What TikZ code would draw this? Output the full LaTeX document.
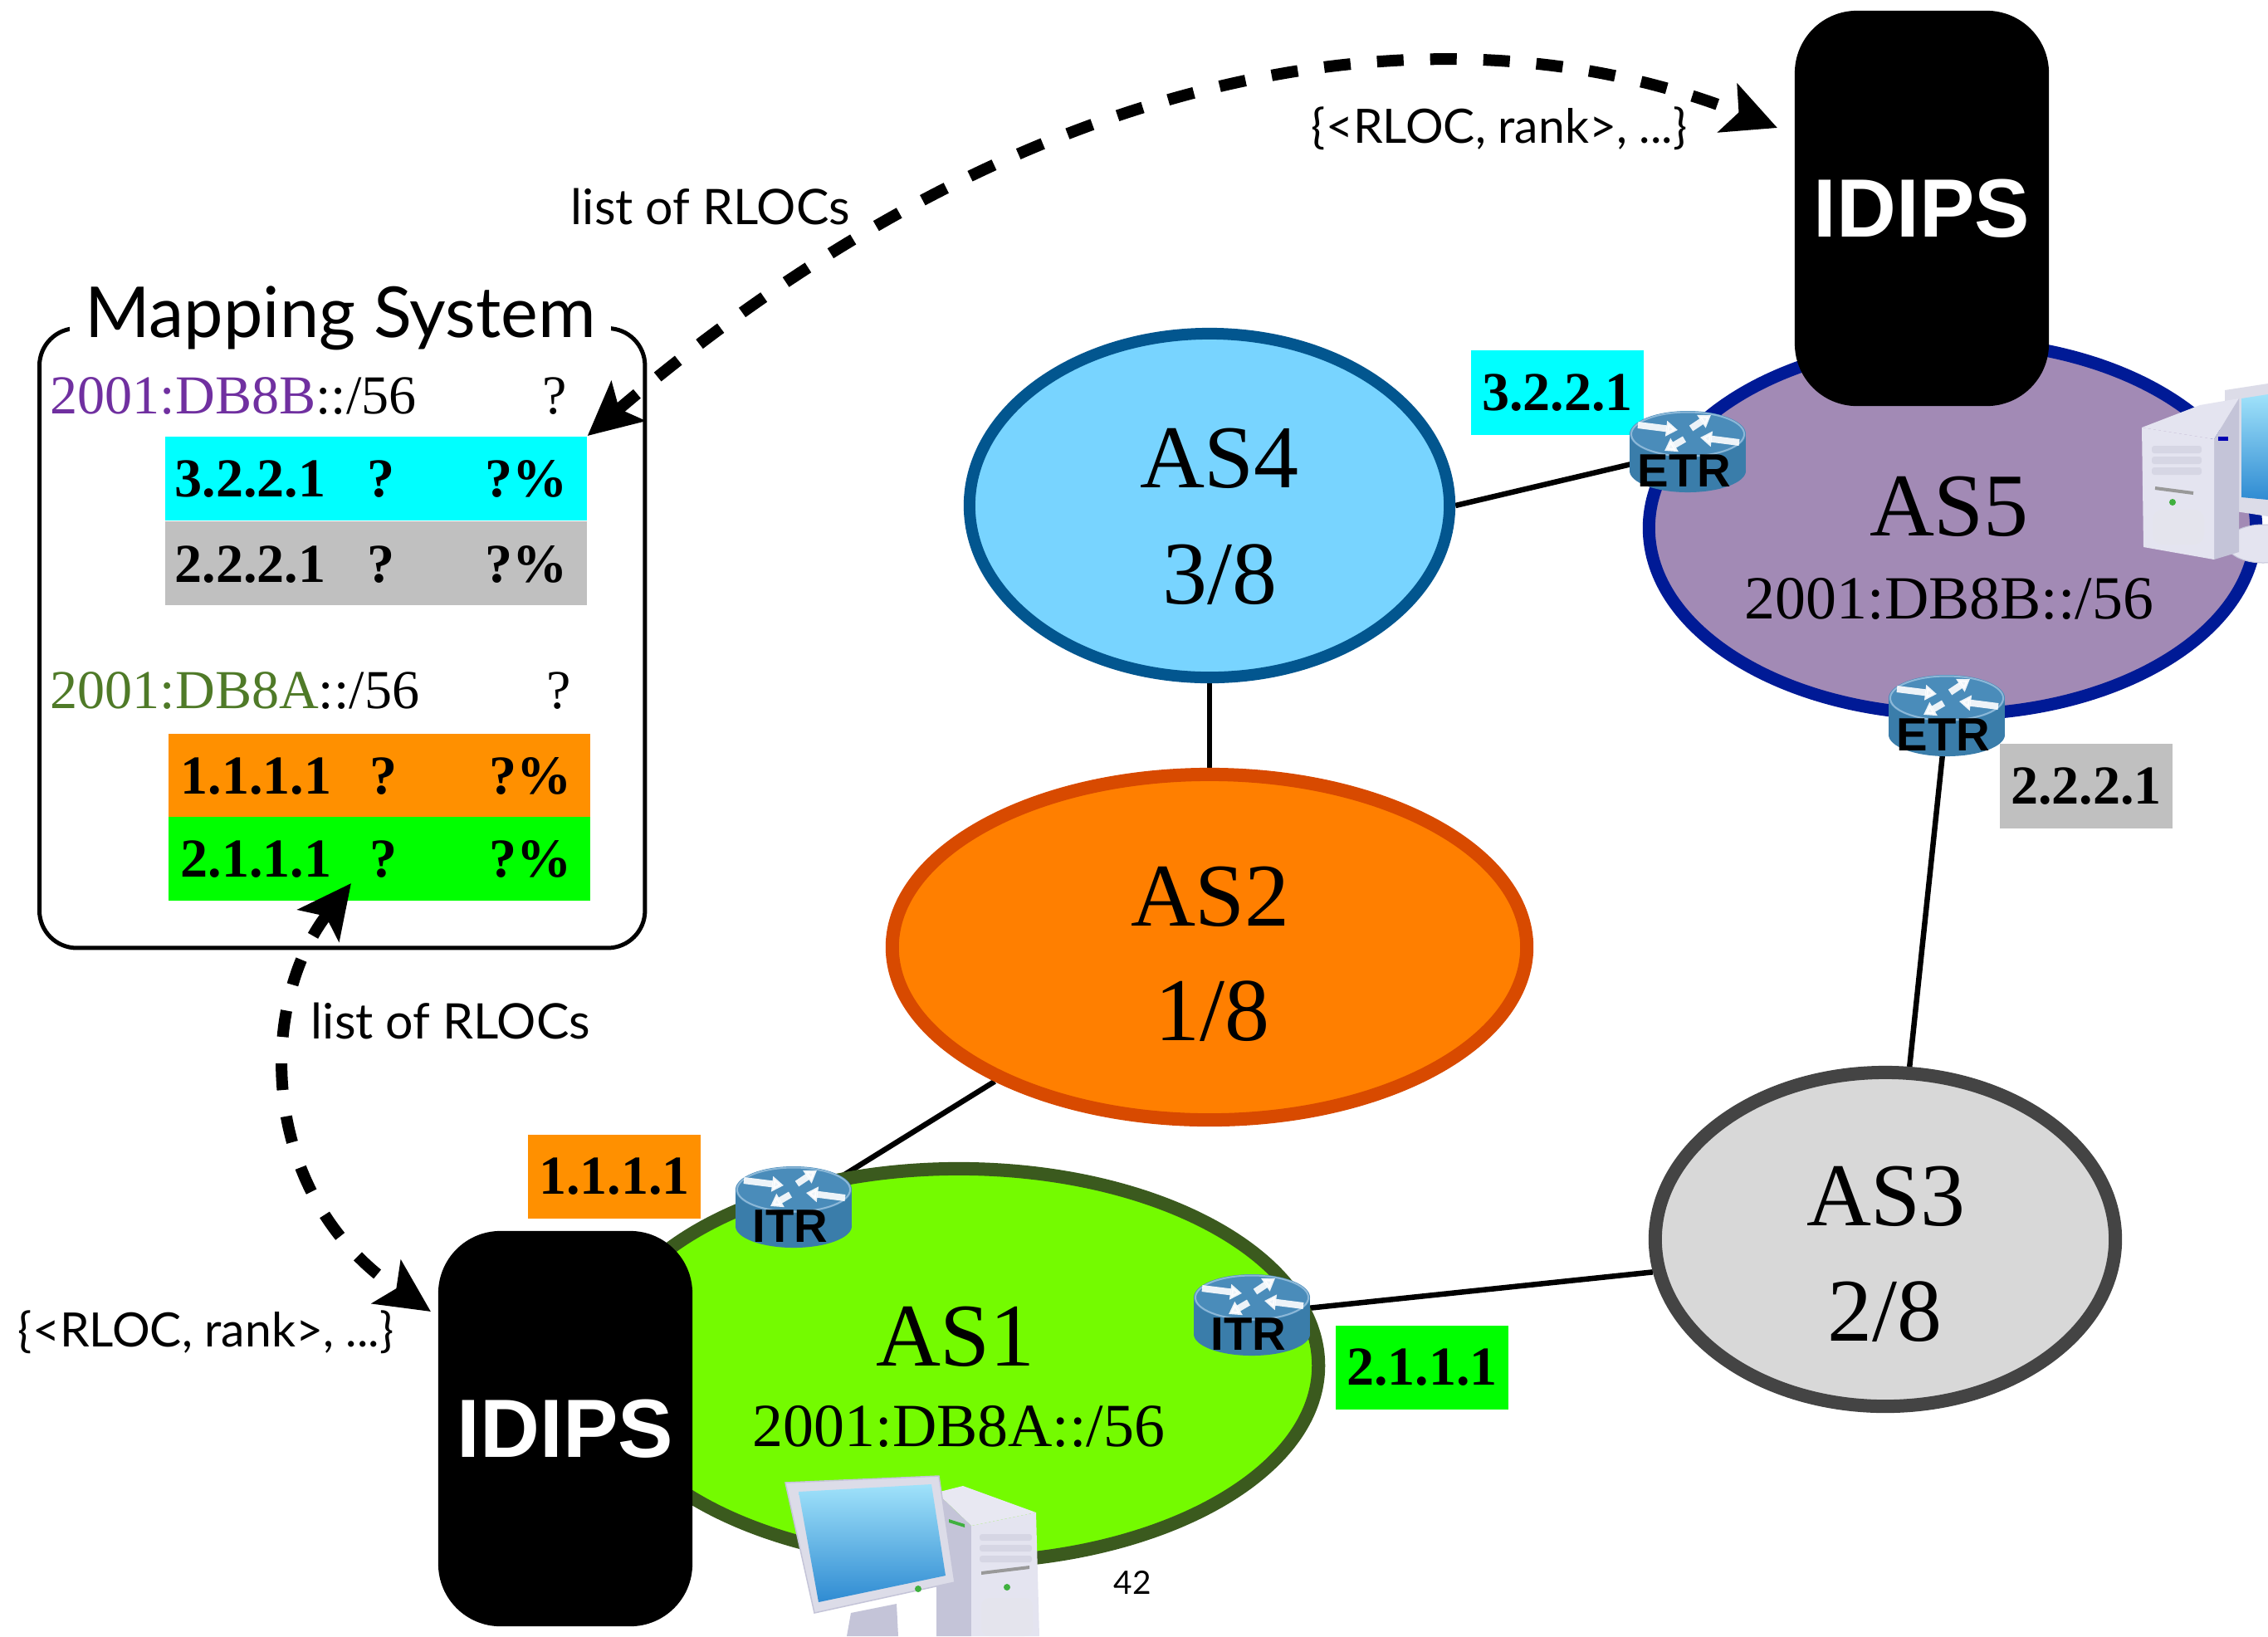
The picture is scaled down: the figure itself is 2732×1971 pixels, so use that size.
\documentclass[tikz,border=0pt]{standalone}
\usepackage{fontspec}
\usepackage{graphicx}
\setmainfont{Liberation Serif}
\newfontfamily\labelsans{Lato}
\newfontfamily\heavysans{Liberation Sans}
\usetikzlibrary{arrows.meta,shapes.geometric,backgrounds}

\definecolor{asfourfill}{HTML}{78D4FF}
\definecolor{asfourline}{HTML}{02568F}
\definecolor{astwofill}{HTML}{FF7F00}
\definecolor{astwoline}{HTML}{D84A00}
\definecolor{asonefill}{HTML}{74FB00}
\definecolor{asoneline}{HTML}{3B5A1E}
\definecolor{asthreefill}{HTML}{D8D8D8}
\definecolor{asthreeline}{HTML}{444444}
\definecolor{asfivefill}{HTML}{A28AB5}
\definecolor{asfiveline}{HTML}{001A96}
\definecolor{rlcyan}{HTML}{00FFFF}
\definecolor{rlgray}{HTML}{C0C0C0}
\definecolor{rlorange}{HTML}{FF9000}
\definecolor{rlgreen}{HTML}{00FF00}
\definecolor{pfxpurple}{HTML}{7030A0}
\definecolor{pfxgreen}{HTML}{4F7A28}
\definecolor{rtrbody}{HTML}{3A7DAA}
\definecolor{rtrtop}{HTML}{4A8CBA}
\definecolor{rtrrim}{HTML}{8CB8D8}
\definecolor{pcshell}{HTML}{E4E4F0}
\definecolor{pcshade}{HTML}{C4C4D8}
\definecolor{pcframe}{HTML}{DCDCE8}
\definecolor{pcscreen}{HTML}{2F8BD2}
\definecolor{pcscreenlight}{HTML}{A0E2FA}
\definecolor{pcled}{HTML}{3FB03F}

\newcommand\fitwidth[2]{\resizebox{#1}{!}{#2}}

% Cisco-style router: cylinder with white arrows and a label
\newcommand\netrouter[4]{%
  \begin{scope}[shift={(#2,#3)}]
    \fill[rtrbody] (-70,-20) rectangle (70,24);
    \fill[rtrbody] (0,24) ellipse [x radius=0.7cm, y radius=0.26cm];
    \fill[rtrtop] (0,-20) ellipse [x radius=0.7cm, y radius=0.28cm];
    \draw[rtrrim, line width=0.02cm] (0,-20) ellipse [x radius=0.68cm, y radius=0.265cm];
    \draw[rtrarrow] (-60,-31) -- (-12,-25);
    \draw[rtrarrow] (4,-27) -- (28,-43);
    \draw[rtrarrow] (62,-10) -- (15,-16);
    \draw[rtrarrow] (-4,-14) -- (-28,0);
    \node[rtrlabel] (#1label) at (-4,24) {#4};
    \node[rtrnode] (#1) at (0,0) {};
  \end{scope}}

\begin{document}
\begin{tikzpicture}[x=0.01cm, y=-0.01cm,
  link/.style={line width=0.065cm, black},
  rlocarrow/.style={line width=0.14cm, dash pattern=on 0.32cm off 0.32cm,
    {Stealth[length=0.64cm,width=0.62cm,inset=0.14cm]}-{Stealth[length=0.64cm,width=0.62cm,inset=0.14cm]}},
  asnode/.style={ellipse, inner sep=0pt},
  asname/.style={font=\fontsize{30.7}{36}\selectfont, anchor=base, inner sep=0pt},
  asprefix/.style={font=\fontsize{21}{25}\selectfont, anchor=base, inner sep=0pt},
  rlocbox/.style={font=\fontsize{18.8}{22}\selectfont\bfseries, inner sep=0pt,
    minimum width=2.08cm, minimum height=1.01cm},
  rowbar/.style={inner sep=0pt, minimum width=5.08cm, minimum height=1.01cm, anchor=north west},
  rowtext/.style={font=\fontsize{18.8}{22}\selectfont\bfseries, inner sep=0pt},
  pfxtext/.style={font=\fontsize{18.8}{22}\selectfont, inner sep=0pt},
  idipsbox/.style={fill=black, rounded corners=0.75cm, minimum width=3.06cm,
    minimum height=4.76cm, inner sep=0pt, text=white, font=\heavysans\bfseries},
  sanslabel/.style={font=\labelsans, inner sep=0pt, anchor=base},
  rtrnode/.style={inner sep=0pt, minimum width=1.41cm, minimum height=0.99cm},
  rtrlabel/.style={font=\fontsize{16}{18}\selectfont\heavysans\bfseries, inner sep=0pt},
  rtrarrow/.style={white, line width=0.08cm, opacity=0.9, -{Triangle[length=0.14cm,width=0.18cm]}},
]
\useasboundingbox (0,0) rectangle (2732,1971);

% ---------------- mapping system table ----------------
\node[draw, line width=0.05cm, rounded corners=0.45cm, minimum width=7.29cm,
  minimum height=7.46cm, inner sep=0pt, anchor=north west] (mapsys) at (45,393) {};
\node[fill=white, inner xsep=0.18cm, inner ysep=0.05cm, anchor=base] (maptitle)
  at (410,406) {\fitwidth{6.15cm}{\labelsans Mapping System}};

\node[pfxtext, anchor=base west] (pfxB) at (60,498) {\textcolor{pfxpurple}{2001:DB8B}::/56};
\node[pfxtext, anchor=base] (pfxBq) at (668,498) {?};
\node[rowbar, fill=rlcyan] (rowcyan) at (198,525) {};
\node[rowbar, fill=rlgray] (rowgray) at (198,627) {};
\node[rowtext, anchor=base west] (rowcyanip) at (210,598) {3.2.2.1};
\node[rowtext, anchor=base] (rowcyanq) at (459,598) {?};
\node[rowtext, anchor=base east] (rowcyanp) at (684,598) {?\%};
\node[rowtext, anchor=base west] (rowgrayip) at (210,701) {2.2.2.1};
\node[rowtext, anchor=base] (rowgrayq) at (459,701) {?};
\node[rowtext, anchor=base east] (rowgrayp) at (684,701) {?\%};

\node[pfxtext, anchor=base west] (pfxA) at (60,853) {\textcolor{pfxgreen}{2001:DB8A}::/56};
\node[pfxtext, anchor=base] (pfxAq) at (673,853) {?};
\node[rowbar, fill=rlorange] (roworange) at (202,883) {};
\node[rowbar, fill=rlgreen] (rowgreen) at (202,983) {};
\node[rowtext, anchor=base west] (roworangeip) at (217,956) {1.1.1.1};
\node[rowtext, anchor=base] (roworangeq) at (462,956) {?};
\node[rowtext, anchor=base east] (roworangep) at (689,956) {?\%};
\node[rowtext, anchor=base west] (rowgreenip) at (217,1056) {2.1.1.1};
\node[rowtext, anchor=base] (rowgreenq) at (462,1056) {?};
\node[rowtext, anchor=base east] (rowgreenp) at (689,1056) {?\%};

% ---------------- autonomous systems ----------------
\node[asnode, draw=asfourline, fill=asfourfill, line width=0.14cm,
  minimum width=5.78cm, minimum height=4.14cm] (as4) at (1457,609) {};
\node[asname] (as4name) at (1469,587) {AS4};
\node[asname] (as4share) at (1469,727) {3/8};

\node[asnode, draw=astwoline, fill=astwofill, line width=0.16cm,
  minimum width=7.64cm, minimum height=4.16cm] (as2) at (1457,1141) {};
\node[asname] (as2name) at (1458,1115) {AS2};
\node[asname] (as2share) at (1460,1253) {1/8};

\node[asnode, draw=asthreeline, fill=asthreefill, line width=0.16cm,
  minimum width=5.54cm, minimum height=4.02cm] (as3) at (2271,1493) {};
\node[asname] (as3name) at (2272,1476) {AS3};
\node[asname] (as3share) at (2270,1615) {2/8};

\node[asnode, draw=asfiveline, fill=asfivefill, line width=0.15cm,
  minimum width=7.31cm, minimum height=4.49cm] (as5) at (2352,636) {};
\node[asname] (as5name) at (2348,645) {AS5};
\node[asprefix] (as5prefix) at (2348,745) {2001:DB8B::/56};

% desktop computer at the edge of AS5
\fill[pcframe] (2680,470) -- (2732,462) -- (2732,622) -- (2680,614) -- cycle;
\shade[top color=pcscreenlight, bottom color=pcscreen] (2700,480) -- (2732,475) -- (2732,602) -- (2700,599) -- cycle;
\fill[pcshell, draw=pcshade, line width=0.01cm] (2726,655) ellipse [x radius=0.44cm, y radius=0.23cm];
\fill[pcshell] (2580,515) -- (2650,488) -- (2697,480) -- (2667,529) -- cycle;
\fill[pcshade] (2667,529) -- (2697,480) -- (2697,665) -- (2667,674) -- cycle;
\fill[pcshell] (2580,515) -- (2667,529) -- (2667,674) -- (2582,659) -- cycle;
\foreach \yy in {537,550,563} {
  \fill[pcshade!70!white, rounded corners=0.03cm] (2592,\yy) rectangle (2652,\yy+9);
}
\draw[gray!80, line width=0.04cm] (2596,588) -- (2642,594);
\fill[pcled] (2617,605) circle [radius=0.04cm];
\fill[pcshade!45!white, rounded corners=0.12cm] (2593,614) rectangle (2655,656);
\fill[blue!70!black] (2672,526) rectangle (2684,531);

\node[idipsbox] (idipsT) at (2315,251) {\fitwidth{2.6cm}{IDIPS}};

\node[asnode, draw=asoneline, fill=asonefill, line width=0.16cm,
  minimum width=8.66cm, minimum height=4.74cm] (as1) at (1155,1645) {};
\node[asname] (as1name) at (1151,1645) {AS1};
\node[asprefix] (as1prefix) at (1155,1742) {2001:DB8A::/56};

% desktop computer inside AS1
\fill[pcshell!85!white] (1128,1798) -- (1160,1790) -- (1248,1822) -- (1170,1838) -- cycle;
\fill[pcshade] (1128,1798) -- (1170,1838) -- (1170,1971) -- (1128,1971) -- cycle;
\fill[pcshell] (1170,1838) -- (1248,1822) -- (1252,1971) -- (1170,1971) -- cycle;
\foreach \yy in {1848,1861,1874} {
  \fill[pcshade!70!white, rounded corners=0.03cm] (1180,\yy) rectangle (1243,\yy+8);
}
\fill[gray!80] (1182,1893) -- (1240,1886) -- (1240,1890) -- (1182,1897) -- cycle;
\fill[pcled] (1213,1912) circle [radius=0.04cm];
\fill[pcshade!45!white, rounded corners=0.1cm] (1182,1925) rectangle (1244,1971);
\fill[pcled] (1143,1830) -- (1162,1836) -- (1162,1840) -- (1143,1834) -- cycle;
\fill[pcshade] (1025,1943) -- (1080,1932) -- (1082,1971) -- (1020,1971) -- cycle;
\fill[pcframe, draw=pcshade, line width=0.015cm] (946,1786) -- (1131,1778) -- (1150,1906) -- (981,1943) -- cycle;
\shade[top color=pcscreenlight, bottom color=pcscreen] (962,1797) -- (1122,1788) -- (1139,1898) -- (986,1930) -- cycle;
\fill[pcled] (1106,1914) circle [radius=0.04cm];

\node[idipsbox] (idipsB) at (681,1721) {\fitwidth{2.6cm}{IDIPS}};

% ---------------- RLOC labels ----------------
\node[rlocbox, fill=rlcyan] (lbl3221) at (1876,473) {3.2.2.1};
\node[rlocbox, fill=rlgray] (lbl2221) at (2513,947) {2.2.2.1};
\node[rlocbox, fill=rlorange] (lbl1111) at (740,1417) {1.1.1.1};
\node[rlocbox, fill=rlgreen] (lbl2111) at (1713,1647) {2.1.1.1};

% ---------------- border routers ----------------
\netrouter{etr1}{2033}{543}{ETR}
\netrouter{etr2}{2345}{861}{ETR}
\netrouter{itr1}{956}{1453}{ITR}
\netrouter{itr2}{1508}{1583}{ITR}

% ---------------- mapping exchanges ----------------
\coordinate (tipIdipsT) at (2141,154);
\coordinate (tipRowGreen) at (423,1064);
\coordinate (tipIdipsB) at (519,1580);
\draw[rlocarrow] (rowcyan.north east) .. controls (1250,62) and (1750,-2) .. (tipIdipsT);
\draw[rlocarrow] (tipRowGreen) .. controls (310,1210) and (310,1440) .. (tipIdipsB);

\node[sanslabel] (lblListT) at (856,270) {\fitwidth{3.36cm}{list of RLOCs}};
\node[sanslabel] (lblRankT) at (1806,172) {\fitwidth{4.52cm}{\{<RLOC, rank>, ...\}}};
\node[sanslabel] (lblListB) at (543,1251) {\fitwidth{3.36cm}{list of RLOCs}};
\node[sanslabel] (lblRankB) at (248,1622) {\fitwidth{4.52cm}{\{<RLOC, rank>, ...\}}};
\node[sanslabel] (pagenum) at (1364,1920) {\fitwidth{0.45cm}{42}};

% ---------------- inter-AS links (behind everything) ----------------
\begin{scope}[on background layer]
  \fill[white] (0,0) rectangle (2732,1971);
  \draw[link] (as4.east) -- (etr1.center);
  \draw[link] (as4.south) -- (as2.north);
  \draw[link] (as2.212) -- (itr1.center);
  \draw[link] (itr2.center) -- (as3.188);
  \draw[link] (etr2.center) -- (as3.82);
\end{scope}
\end{tikzpicture}
\end{document}
